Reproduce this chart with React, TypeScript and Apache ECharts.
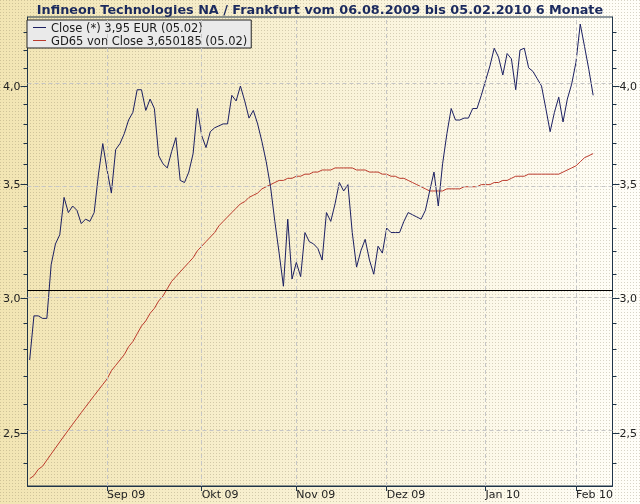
import { useEffect, useRef } from "react";
import * as echarts from "echarts";

const TITLE = "Infineon Technologies NA / Frankfurt vom 06.08.2009 bis 05.02.2010 6 Monate";
const CLOSE_NAME = "Close (*) 3,95 EUR (05.02)";
const GD_NAME = "GD65 von Close 3,650185 (05.02)";

// trading-day axis: weekdays from 06.08.2009, incl. 4 empty days after 05.02.2010
const START = { y: 2009, m: 7, d: 6 };
const CATEGORY_COUNT = 136;
const MONTH_NAMES = ["Jan", "Feb", "Mrz", "Apr", "Mai", "Jun", "Jul", "Aug", "Sep", "Okt", "Nov", "Dez"];

const close = [
  2.76, 2.93, 2.93, 2.92, 2.92, 3.14, 3.23, 3.27, 3.44, 3.37,
  3.40, 3.38, 3.32, 3.34, 3.33, 3.37, 3.55, 3.70, 3.57, 3.46,
  3.67, 3.70, 3.75, 3.82, 3.86, 3.98, 3.98, 3.87, 3.93, 3.88,
  3.64, 3.60, 3.58, 3.66, 3.73, 3.52, 3.51, 3.56, 3.65, 3.88,
  3.74, 3.68, 3.76, 3.78, 3.79, 3.80, 3.80, 3.95, 3.92, 4.00,
  3.92, 3.83, 3.87, 3.80, 3.71, 3.61, 3.49, 3.33, 3.19, 3.05,
  3.34, 3.08, 3.15, 3.09, 3.28, 3.24, 3.23, 3.21, 3.16, 3.37,
  3.33, 3.41, 3.51, 3.47, 3.50, 3.28, 3.13, 3.20, 3.25, 3.16,
  3.10, 3.22, 3.19, 3.30, 3.28, 3.28, 3.28, 3.33, 3.37, 3.36,
  3.35, 3.34, 3.38, 3.47, 3.56, 3.40, 3.60, 3.75, 3.88, 3.82,
  3.82, 3.83, 3.83, 3.88, 3.88, 3.95, 4.03, 4.11, 4.21, 4.16,
  4.06, 4.18, 4.15, 3.98, 4.20, 4.21, 4.10, 4.08, 4.04, 4.00,
  3.88, 3.76, 3.86, 3.94, 3.81, 3.93, 4.01, 4.13, 4.35, 4.22,
  4.09, 3.95,
];

const gd65 = [
  2.35, 2.36, 2.38, 2.39, 2.41, 2.43, 2.45, 2.47, 2.49, 2.51,
  2.53, 2.55, 2.57, 2.59, 2.61, 2.63, 2.65, 2.67, 2.69, 2.72,
  2.74, 2.76, 2.78, 2.81, 2.83, 2.86, 2.89, 2.91, 2.94, 2.96,
  2.99, 3.01, 3.04, 3.07, 3.09, 3.11, 3.13, 3.15, 3.17, 3.20,
  3.22, 3.24, 3.26, 3.28, 3.31, 3.33, 3.35, 3.37, 3.39, 3.41,
  3.42, 3.44, 3.45, 3.46, 3.48, 3.49, 3.50, 3.51, 3.52, 3.52,
  3.53, 3.53, 3.54, 3.54, 3.55, 3.55, 3.56, 3.56, 3.57, 3.57,
  3.57, 3.58, 3.58, 3.58, 3.58, 3.58, 3.57, 3.57, 3.57, 3.56,
  3.56, 3.56, 3.55, 3.55, 3.54, 3.54, 3.53, 3.53, 3.52, 3.51,
  3.50, 3.49, 3.48, 3.47, 3.47, 3.47, 3.47, 3.48, 3.48, 3.48,
  3.48, 3.49, 3.49, 3.49, 3.49, 3.50, 3.50, 3.50, 3.51, 3.51,
  3.52, 3.52, 3.53, 3.54, 3.54, 3.54, 3.55, 3.55, 3.55, 3.55,
  3.55, 3.55, 3.55, 3.55, 3.56, 3.57, 3.58, 3.59, 3.61, 3.63,
  3.64, 3.650185,
];

const REF_LINE = 3.03;
const Y_MIN = 2.327;
const Y_MAX = 4.392;
const MAJOR_TICKS = [2.5, 3.0, 3.5, 4.0];
const MINOR_TICKS = [2.4, 2.5, 2.6, 2.7, 2.8, 2.9, 3.0, 3.1, 3.2, 3.3, 3.4, 3.5, 3.6, 3.7, 3.8, 3.9, 4.0, 4.1, 4.2, 4.3];

const FONT = "DejaVu Sans";
const AXIS = "#1f3448";
const CLOSE_COLOR = "#1b1f62";
const GD_COLOR = "#bb3a2c";
const GRID_COLOR = "#c6c6c6";

function buildCategories(): string[] {
  const out: string[] = [];
  let t = Date.UTC(START.y, START.m, START.d);
  while (out.length < CATEGORY_COUNT) {
    const d = new Date(t);
    const wd = d.getUTCDay();
    if (wd !== 0 && wd !== 6) out.push(d.toISOString().slice(0, 10));
    t += 86400000;
  }
  return out;
}

function makeDots(): HTMLCanvasElement {
  const c = document.createElement("canvas");
  c.width = 3;
  c.height = 3;
  const ctx = c.getContext("2d");
  if (ctx) {
    ctx.fillStyle = "rgba(125,115,85,0.30)";
    ctx.fillRect(0, 0, 1, 1);
  }
  return c;
}

export default function App() {
  const ref = useRef<HTMLDivElement>(null);

  useEffect(() => {
    if (!ref.current) return;
    const chart = echarts.init(ref.current, undefined, { renderer: "svg" });

    const cats = buildCategories();
    const monthStarts = new Set<number>();
    for (let i = 1; i < cats.length; i++) {
      if (cats[i].slice(0, 7) !== cats[i - 1].slice(0, 7)) monthStarts.add(i);
    }
    const isMonth = (i: number) => monthStarts.has(i);
    const monthLabel = (v: string) => MONTH_NAMES[Number(v.slice(5, 7)) - 1] + " " + v.slice(2, 4);
    const yFmt = (v: number) => Math.exp(v).toFixed(1).replace(".", ",");
    const ln = (v: number) => Math.log(v);

    const yCommon = {
      type: "value" as const,
      min: ln(Y_MIN),
      max: ln(Y_MAX),
      splitLine: { show: false },
    };
    const labelStyle = { color: "#222", fontSize: 11, fontFamily: FONT };

    const option: any = {
      animation: false,
      graphic: [
        {
          type: "rect",
          left: 0,
          top: 0,
          z: -20,
          silent: true,
          shape: { width: 640, height: 504 },
          style: {
            fill: new echarts.graphic.LinearGradient(0, 0, 1, 0, [
              { offset: 0, color: "#F2E5B3" },
              { offset: 0.5, color: "#F9F2D6" },
              { offset: 1, color: "#FFFEF9" },
            ]),
          },
        },
        {
          type: "rect",
          left: 0,
          top: 0,
          z: -19,
          silent: true,
          shape: { width: 640, height: 504 },
          style: { fill: { image: makeDots(), repeat: "repeat" } },
        },
      ],
      title: {
        text: TITLE,
        left: "center",
        top: 3,
        padding: 0,
        textStyle: { fontFamily: FONT, fontWeight: "bold", fontSize: 12.8, color: "#1b2a5e" },
      },
      legend: {
        left: 27,
        top: 20,
        orient: "vertical",
        data: [CLOSE_NAME, GD_NAME],
        selectedMode: false,
        icon: "rect",
        itemWidth: 13,
        itemHeight: 1,
        itemGap: 0,
        padding: [1, 4, 1, 6],
        backgroundColor: "#EAEAEA",
        borderColor: "#222",
        borderWidth: 1,
        textStyle: { fontFamily: FONT, fontSize: 11.5, color: "#1a1a1a", lineHeight: 13 },
      },
      grid: {
        left: 27,
        right: 25,
        top: 17,
        bottom: 18,
        show: true,
        borderColor: AXIS,
        borderWidth: 1,
        backgroundColor: "transparent",
      },
      xAxis: {
        type: "category",
        data: cats,
        boundaryGap: true,
        axisLine: { lineStyle: { color: AXIS, width: 1 } },
        axisTick: {
          show: true,
          alignWithLabel: true,
          interval: (i: number) => isMonth(i),
          length: 5,
          lineStyle: { color: AXIS },
        },
        axisLabel: {
          ...labelStyle,
          interval: (i: number) => isMonth(i),
          formatter: monthLabel,
          align: "left",
          margin: 3,
        },
        splitLine: { show: false },
      },
      yAxis: [
        {
          ...yCommon,
          position: "left",
          offset: 0,
          axisLine: { show: true, lineStyle: { color: AXIS } },
          axisTick: { show: true, length: 4, customValues: MINOR_TICKS.map(ln), lineStyle: { color: AXIS } },
          axisLabel: { show: false },
        },
        {
          ...yCommon,
          position: "left",
          offset: 0,
          axisLine: { show: false },
          axisTick: { show: true, length: 7, customValues: MAJOR_TICKS.map(ln), lineStyle: { color: AXIS } },
          axisLabel: { ...labelStyle, customValues: MAJOR_TICKS.map(ln), formatter: yFmt, margin: 7 },
        },
        {
          ...yCommon,
          position: "right",
          offset: 0,
          axisLine: { show: true, lineStyle: { color: AXIS } },
          axisTick: { show: true, length: 4, customValues: MINOR_TICKS.map(ln), lineStyle: { color: AXIS } },
          axisLabel: { show: false },
        },
        {
          ...yCommon,
          position: "right",
          offset: 0,
          axisLine: { show: false },
          axisTick: { show: true, length: 7, customValues: MAJOR_TICKS.map(ln), lineStyle: { color: AXIS } },
          axisLabel: { ...labelStyle, customValues: MAJOR_TICKS.map(ln), formatter: yFmt, margin: 7 },
        },
      ],
      series: [
        {
          name: GD_NAME,
          type: "line",
          yAxisIndex: 0,
          data: gd65.map(ln),
          showSymbol: false,
          symbol: "none",
          lineStyle: { color: GD_COLOR, width: 1 },
          itemStyle: { color: GD_COLOR },
          markLine: {
            silent: true,
            symbol: "none",
            label: { show: false },
            lineStyle: { color: GRID_COLOR, type: [4, 3], width: 1 },
            data: [
              ...MAJOR_TICKS.map((v) => ({ yAxis: ln(v) })),
              ...Array.from(monthStarts).map((i) => ({ xAxis: cats[i] })),
            ],
          },
        },
        {
          name: CLOSE_NAME,
          type: "line",
          yAxisIndex: 0,
          data: close.map(ln),
          showSymbol: false,
          symbol: "none",
          lineStyle: { color: CLOSE_COLOR, width: 1 },
          itemStyle: { color: CLOSE_COLOR },
          markLine: {
            silent: true,
            symbol: "none",
            label: { show: false },
            lineStyle: { color: "#000", type: "solid", width: 1 },
            data: [{ yAxis: ln(REF_LINE) }],
          },
        },
      ],
    };

    chart.setOption(option);
    return () => chart.dispose();
  }, []);

  return <div ref={ref} style={{ position: "fixed", left: 0, top: 0, width: 640, height: 504 }} />;
}
